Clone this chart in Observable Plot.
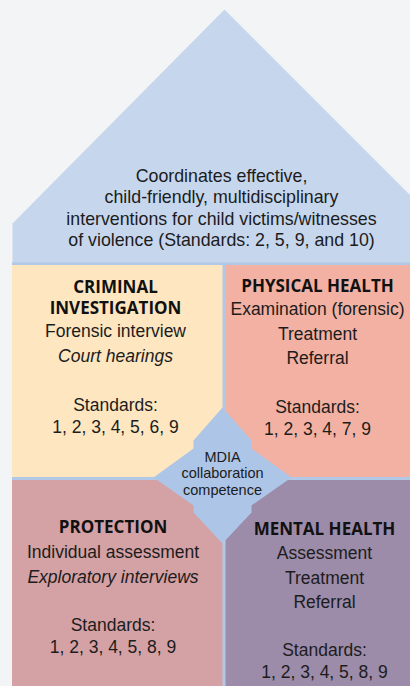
<!DOCTYPE html>
<html>
<head>
<meta charset="utf-8">
<script src="https://cdn.jsdelivr.net/npm/d3@7"></script>
<script src="https://cdn.jsdelivr.net/npm/@observablehq/plot@0.6"></script>
<style>
  html, body { margin: 0; padding: 0; background: #f3f4f6; }
  #chart svg { display: block; }
</style>
</head>
<body>
<div id="chart"></div>
<script>
// ---- content ----
const roofLines = [
  "Coordinates effective,",
  "child-friendly, multidisciplinary",
  "interventions for child victims/witnesses",
  "of violence (Standards: 2, 5, 9, and 10)"
];
const panelHeads = [["CRIMINAL", "INVESTIGATION"], ["PHYSICAL HEALTH"], ["PROTECTION"], ["MENTAL HEALTH"]];
const panelItems = [
  ["Forensic interview", "Court hearings"],
  ["Examination (forensic)", "Treatment", "Referral"],
  ["Individual assessment", "Exploratory interviews"],
  ["Assessment", "Treatment", "Referral"]
];
const italicItems = ["Court hearings", "Exploratory interviews"];
const standardsLabel = "Standards:";
const panelStandards = ["1, 2, 3, 4, 5, 6, 9", "1, 2, 3, 4, 7, 9", "1, 2, 3, 4, 5, 8, 9", "1, 2, 3, 4, 5, 8, 9"];
const centerLines = ["MDIA", "collaboration", "competence"];

// ---- diagram geometry (layout) ----
const W = 410, H = 686;
const roofShape = [[12, 223], [224, 9], [410, 195], [410, 262], [12, 262]];
const centerShape = [[222, 407], [251, 440], [251, 448], [291, 477], [251, 505], [251, 512], [222, 543],
                     [193, 512], [193, 505], [153, 477], [193, 448], [193, 440]];
const panelBoxes = [
  {x1: 12, x2: 222.5, y1: 265, y2: 477, fill: "#fde6c0"},
  {x1: 225.5, x2: 410, y1: 265, y2: 477, fill: "#f2b1a3"},
  {x1: 12, x2: 222.5, y1: 480, y2: 686, fill: "#d4a1a5"},
  {x1: 225.5, x2: 410, y1: 480, y2: 686, fill: "#9c8ba9"}
];
// text layout per panel: center x, first heading y, first item y, standards y
const panelLayout = [
  {cx: 115, head: 287, item: 331, std: 405},
  {cx: 317, head: 286, item: 309, std: 407},
  {cx: 112.5, head: 527, item: 552, std: 625},
  {cx: 324, head: 529, item: 553, std: 650}
];

const textRows = [];
panelHeads.forEach((heads, i) => {
  const L = panelLayout[i];
  heads.forEach((t, j) => textRows.push({x: L.cx, y: L.head + j * 21.5, t, kind: "head"}));
  panelItems[i].forEach((t, j) => textRows.push({x: L.cx, y: L.item + j * 24.5, t, kind: italicItems.includes(t) ? "italic" : "item"}));
  textRows.push({x: L.cx, y: L.std, t: standardsLabel, kind: "item"});
  textRows.push({x: L.cx, y: L.std + 21.5, t: panelStandards[i], kind: "item"});
});
const roofRows = roofLines.map((t, j) => ({x: 221, y: 176 + j * 21.2, t}));
const centerRows = centerLines.map((t, j) => ({x: 222, y: 456.5 + j * 16.5, t}));

const sans = "'Liberation Sans', Arial, Helvetica, sans-serif";
const toPts = (shape) => shape.map(([x, y]) => ({x, y}));

const chart = Plot.plot({
  width: W, height: H,
  margin: 0,
  style: {background: "#f3f4f6", overflow: "visible"},
  x: {domain: [0, W], range: [0, W], axis: null},
  y: {domain: [0, H], range: [0, H], axis: null},
  marks: [
    // divider blue underlay
    Plot.rect([{x1: 12, x2: W, y1: 262, y2: H}], {x1: "x1", x2: "x2", y1: "y1", y2: "y2", fill: "#b2c8e7"}),
    Plot.line(toPts(roofShape), {x: "x", y: "y", fill: "#c6d6ec", stroke: "none", curve: "linear-closed"}),
    Plot.rect(panelBoxes, {x1: "x1", x2: "x2", y1: "y1", y2: "y2", fill: d => d.fill}),
    Plot.line(toPts(centerShape), {x: "x", y: "y", fill: "#adc5e6", stroke: "none", curve: "linear-closed"}),
    Plot.text(roofRows, {x: "x", y: "y", text: "t", fontSize: 17.8, fontFamily: sans, fill: "#1c1c1c"}),
    Plot.text(textRows.filter(d => d.kind === "head"), {x: "x", y: "y", text: "t", fontSize: 17, fontWeight: 700, fontFamily: "'Open Sans', sans-serif", fill: "#111"}),
    Plot.text(textRows.filter(d => d.kind === "item"), {x: "x", y: "y", text: "t", fontSize: 17.5, fontFamily: sans, fill: "#1c1c1c"}),
    Plot.text(textRows.filter(d => d.kind === "italic"), {x: "x", y: "y", text: "t", fontSize: 17.5, fontStyle: "italic", fontFamily: sans, fill: "#1c1c1c"}),
    Plot.text(centerRows, {x: "x", y: "y", text: "t", fontSize: 14.5, fontFamily: sans, fill: "#1c1c1c"})
  ]
});
document.getElementById("chart").append(chart);
</script>
</body>
</html>
